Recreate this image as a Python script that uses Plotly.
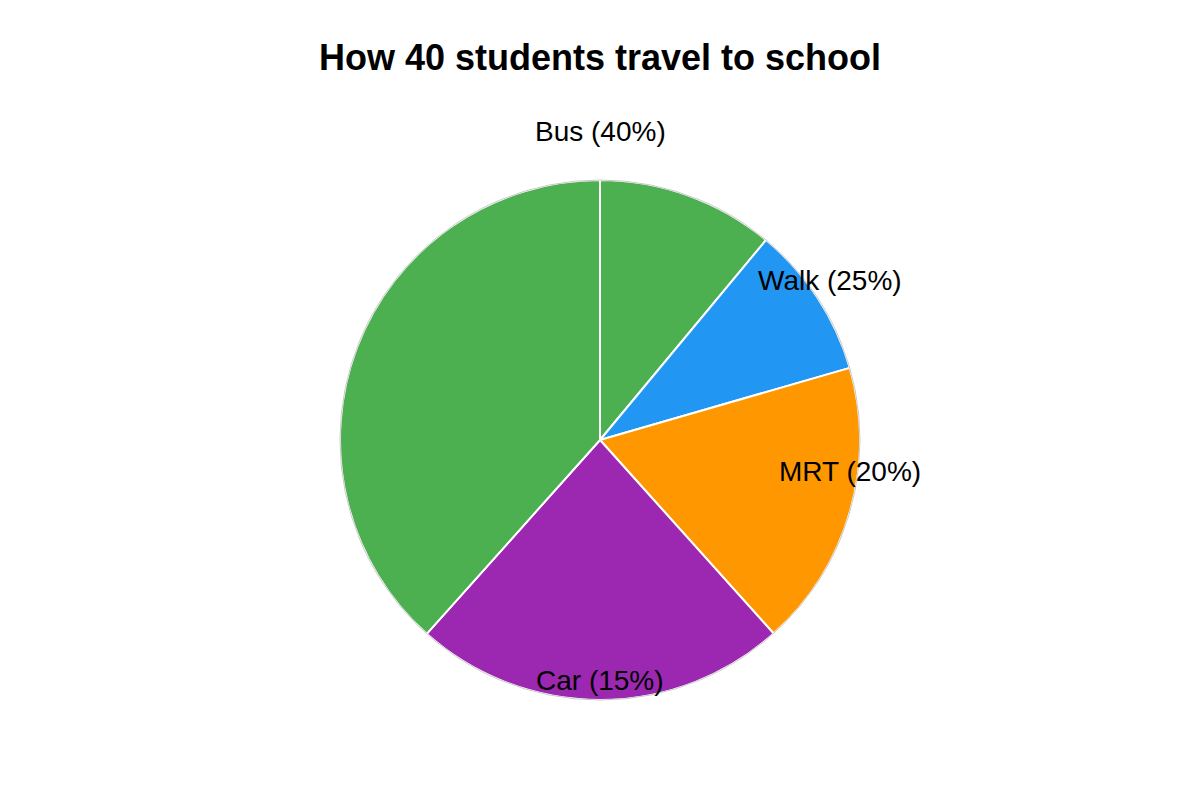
import plotly.graph_objects as go

# slices as drawn (degrees of the circle, clockwise from 12 o'clock)
slice_names = ["Bus a", "Walk", "MRT", "Car", "Bus b"]
slice_degrees = [39.7, 34.2, 64.2, 83.7, 138.2]
slice_colors = ["#4CAF50", "#2196F3", "#FF9800", "#9C27B0", "#4CAF50"]

# label texts
label_names = ["Bus", "Walk", "MRT", "Car"]
label_pcts = [40, 25, 20, 15]

# where the labels sit (paper coords)
label_x = [0.5, 0.6943, 0.7111, 0.5]
label_y = [1.094, 0.806, 0.440, 0.038]

# page body has an 8px margin, so shift the figure back by that
off = 8
W, H = 1200, 800

fig = go.Figure(go.Pie(
    labels=slice_names,
    values=slice_degrees,
    sort=False,
    direction="clockwise",
    rotation=0,
    textinfo="none",
    hoverinfo="skip",
    marker=dict(colors=slice_colors, line=dict(color="white", width=2)),
))

for name, pct, x, y in zip(label_names, label_pcts, label_x, label_y):
    fig.add_annotation(
        text=f"{name} ({pct}%)", x=x, y=y, xref="paper", yref="paper",
        showarrow=False, xanchor="center", yanchor="middle",
        font=dict(size=28, color="black", family="Liberation Sans"),
    )

fig.add_shape(type="circle", xref="paper", yref="paper",
              x0=(340 - off) / (W - 2 * off), x1=(860 - off) / (W - 2 * off), y0=0, y1=1,
              line=dict(color="#c8c8c8", width=1), layer="above")

fig.update_layout(
    width=W, height=H,
    title=dict(text="<b>How 40 students travel to school</b>",
               x=(W / 2 - off) / W, xanchor="center",
               y=1 - (57 - off) / H, yanchor="middle", yref="container",
               font=dict(size=36, color="black", family="Liberation Sans")),
    showlegend=False,
    margin=dict(l=0, r=2 * off, t=180 - off, b=100 + off),
    paper_bgcolor="white",
    font=dict(family="Liberation Sans"),
)

fig.write_html("out.html")
